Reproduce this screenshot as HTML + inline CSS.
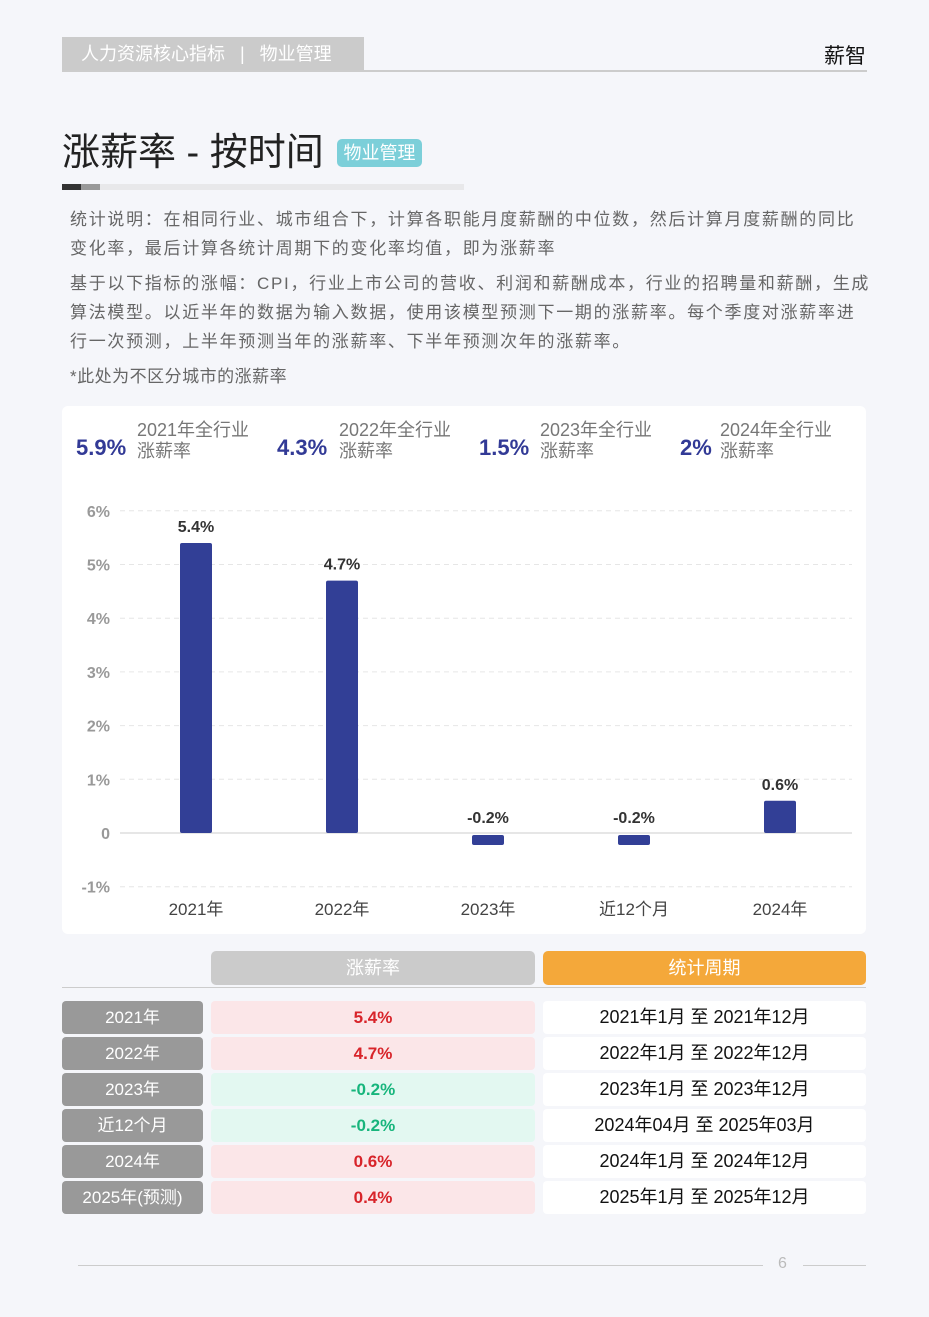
<!DOCTYPE html>
<html><head><meta charset="utf-8">
<style>
*{margin:0;padding:0;box-sizing:border-box}
body{width:929px;height:1317px;background:#f5f6fa;font-family:"Liberation Sans","Noto Sans CJK SC",sans-serif;position:relative;overflow:hidden;color:#555}
.abs{position:absolute}
.p{font-size:17px;color:#666;line-height:29px;left:70px;white-space:nowrap;letter-spacing:1.7px}
.kpi{top:418px;height:50px;white-space:nowrap}
.kpi .n{position:absolute;left:0;top:17px;font-size:22px;font-weight:bold;color:#323a96}
.kpi .t{position:absolute;top:2px;font-size:18px;color:#777;line-height:21px}
.row{position:absolute;height:33px;border-radius:4px;font-size:17px;line-height:33px;text-align:center}
.lab{left:62px;width:141px;background:#999;color:#fff}
.val{left:211px;width:324px;font-weight:bold}
.per{left:543px;width:323px;background:#fff;color:#111;font-size:18px}
</style></head><body>
<div class="abs" style="left:62px;top:37px;width:302px;height:34px;background:#cbcbcb;color:#fff;font-size:18px;line-height:34px;padding-left:19px">人力资源核心指标 &nbsp;&nbsp;|&nbsp;&nbsp; 物业管理</div>
<div class="abs" style="left:62px;top:70px;width:805px;height:2px;background:#ccc"></div>
<div class="abs" style="right:63px;top:40px;font-size:21px;color:#111">薪智</div>
<div class="abs" style="left:62px;top:128px;font-size:38px;color:#222;line-height:50px">涨薪率 - 按时间</div>
<div class="abs" style="left:337px;top:139px;width:85px;height:28px;background:#7ccfd9;border-radius:5px;color:#fff;font-size:18px;line-height:28px;text-align:center">物业管理</div>
<div class="abs" style="left:62px;top:184px;width:402px;height:6px;background:#e8e8ea"><div style="width:19px;height:6px;background:#333;float:left"></div><div style="width:19px;height:6px;background:#999;float:left"></div></div>
<div class="abs p" style="top:205px">统计说明：在相同行业、城市组合下，计算各职能月度薪酬的中位数，然后计算月度薪酬的同比<br>变化率，最后计算各统计周期下的变化率均值，即为涨薪率</div>
<div class="abs p" style="top:269px">基于以下指标的涨幅：CPI，行业上市公司的营收、利润和薪酬成本，行业的招聘量和薪酬，生成<br>算法模型。以近半年的数据为输入数据，使用该模型预测下一期的涨薪率。每个季度对涨薪率进<br>行一次预测，上半年预测当年的涨薪率、下半年预测次年的涨薪率。</div>
<div class="abs p" style="top:362px;letter-spacing:0.5px">*此处为不区分城市的涨薪率</div>

<div class="abs" style="left:62px;top:406px;width:804px;height:528px;background:#fff;border-radius:6px"></div>
<div class="abs kpi" style="left:76px"><span class="n">5.9%</span><span class="t" style="left:61px">2021年全行业<br>涨薪率</span></div>
<div class="abs kpi" style="left:277px"><span class="n">4.3%</span><span class="t" style="left:62px">2022年全行业<br>涨薪率</span></div>
<div class="abs kpi" style="left:479px"><span class="n">1.5%</span><span class="t" style="left:61px">2023年全行业<br>涨薪率</span></div>
<div class="abs kpi" style="left:680px"><span class="n">2%</span><span class="t" style="left:40px">2024年全行业<br>涨薪率</span></div>

<svg class="abs" id="chart" style="left:0;top:0" width="929" height="940"></svg>

<div class="abs" style="left:211px;top:951px;width:324px;height:34px;background:#cbcbcb;border-radius:5px;color:#fff;font-size:18px;line-height:34px;text-align:center">涨薪率</div>
<div class="abs" style="left:543px;top:951px;width:323px;height:34px;background:#f4a83a;border-radius:5px;color:#fff;font-size:18px;line-height:34px;text-align:center">统计周期</div>
<div class="abs" style="left:62px;top:987px;width:804px;height:1px;background:#ccc"></div>
<div id="tbl"></div>

<div class="abs" style="left:78px;top:1265px;width:685px;height:1px;background:#ccc"></div>
<div class="abs" style="left:778px;top:1255px;font-size:16px;color:#bbb">6</div>
<div class="abs" style="left:803px;top:1265px;width:63px;height:1px;background:#ccc"></div>

<script>
const categories=["2021年","2022年","2023年","近12个月","2024年"];
const values=[5.4,4.7,-0.2,-0.2,0.6];
const ticks=[-1,0,1,2,3,4,5,6];
const tickLabels=["-1%","0","1%","2%","3%","4%","5%","6%"];
const rowLabels=["2021年","2022年","2023年","近12个月","2024年","2025年(预测)"];
const rowValues=[5.4,4.7,-0.2,-0.2,0.6,0.4];
const periods=["2021年1月 至 2021年12月","2022年1月 至 2022年12月","2023年1月 至 2023年12月","2024年04月 至 2025年03月","2024年1月 至 2024年12月","2025年1月 至 2025年12月"];

const NS="http://www.w3.org/2000/svg";
const svg=document.getElementById('chart');
const y=v=>833-v*53.7;
const x0=123,band=146;
const x=i=>x0+band*(i+0.5);
function mk(t,a){const e=document.createElementNS(NS,t);for(const k in a)e.setAttribute(k,a[k]);svg.appendChild(e);return e;}
ticks.forEach((t,i)=>{
  const l=mk('line',{x1:120,x2:852,y1:y(t),y2:y(t),stroke:t===0?'#ccc':'#e6e6e6','stroke-dasharray':t===0?'':'5,4'});
  
  
  const tx=mk('text',{x:110,y:y(t)+6,'text-anchor':'end','font-size':16,'font-weight':'bold',fill:'#999'});
  tx.textContent=tickLabels[i];
  
  
});
categories.forEach((c,i)=>{
  const v=values[i];
  const top=Math.min(y(v),y(0)),h=Math.max(Math.abs(y(v)-y(0)),8);
  const r=mk('rect',{x:x(i)-16,y:v<0?y(0)+2:top,width:32,height:v<0?10:h,rx:2,fill:'#323f96'});
  
  
  const vl=mk('text',{x:x(i),y:(v<0?y(0)-10:y(v)-11),'text-anchor':'middle','font-size':16,'font-weight':'bold',fill:'#333'});
  vl.textContent=v.toFixed(1)+'%';
  
  
  const cl=mk('text',{x:x(i),y:915,'text-anchor':'middle','font-size':17,fill:'#444'});
  cl.textContent=c;
  
  
});
const tbl=document.getElementById('tbl');
rowLabels.forEach((l,i)=>{
  const top=1001+i*36;
  const a=document.createElement('div');a.className='row lab';a.style.top=top+'px';a.textContent=l;
  
  
  const b=document.createElement('div');b.className='row val';b.style.top=top+'px';
  const v=rowValues[i];b.textContent=v.toFixed(1)+'%';
  b.style.background=v<0?'#e3f8f1':'#fbe6e8';b.style.color=v<0?'#17b57c':'#d8242a';
  
  
  const c=document.createElement('div');c.className='row per';c.style.top=top+'px';c.textContent=periods[i];
  
  
  tbl.append(a,b,c);
});
</script>
</body></html>
